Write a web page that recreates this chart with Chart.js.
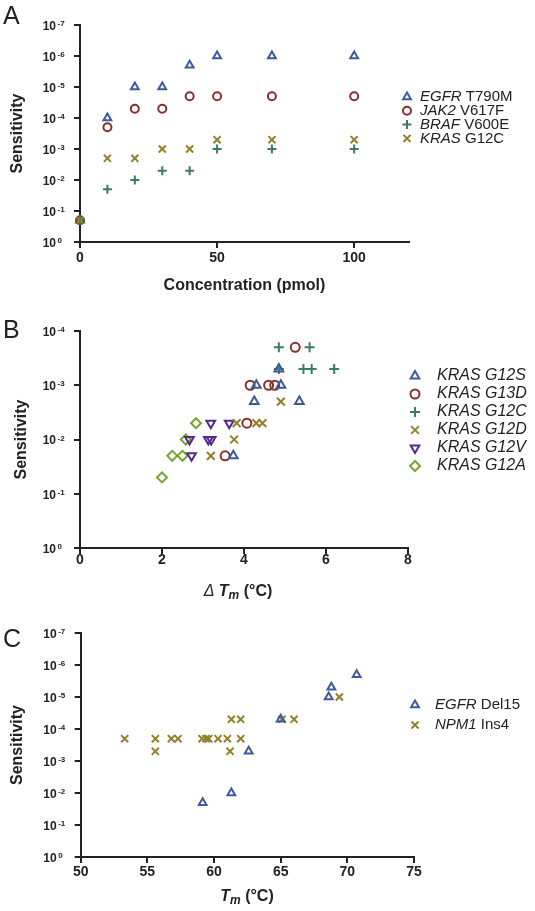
<!DOCTYPE html>
<html>
<head>
<meta charset="utf-8">
<script src="https://cdn.jsdelivr.net/npm/chart.js@4/dist/chart.umd.min.js"></script>
<style>
  body { margin: 0; background: #fff; }
  #wrap { position: relative; width: 535px; height: 911px; }
  canvas { position: absolute; left: 0; }
</style>
</head>
<body>
<div id="wrap">
  <canvas id="chartA" width="535" height="305" style="top:0px"></canvas>
  <canvas id="chartB" width="535" height="297" style="top:305px"></canvas>
  <canvas id="chartC" width="535" height="309" style="top:602px"></canvas>
</div>
<script>
// ---- panel A: sensitivity vs concentration
const concA = [0, 10, 20, 30, 40, 50, 70, 100];
const egfrT790M = [0.2, 1e-4, 1e-5, 1e-5, 2e-6, 1e-6, 1e-6, 1e-6];
const jak2V617F = [0.2, 2e-4, 5e-5, 5e-5, 2e-5, 2e-5, 2e-5, 2e-5];
const brafV600E = [0.2, 2e-2, 1e-2, 5e-3, 5e-3, 1e-3, 1e-3, 1e-3];
const krasG12C = [0.2, 2e-3, 2e-3, 1e-3, 1e-3, 5e-4, 5e-4, 5e-4];
const genesA = ["EGFR", "JAK2", "BRAF", "KRAS"];
const mutsA = ["T790M", "V617F", "V600E", "G12C"];
const xTicksA = [0, 50, 100];

// ---- panel B: sensitivity vs delta Tm (KRAS mutants)
const g12sDTm = [3.74, 4.25, 4.3, 4.85, 4.9, 5.35];
const g12sSens = [0.02, 0.002, 0.001, 5e-4, 0.001, 0.002];
const g13dDTm = [3.54, 4.07, 4.15, 4.6, 4.75, 5.25];
const g13dSens = [0.02, 0.005, 0.001, 0.001, 0.001, 2e-4];
const g12cDTm = [4.85, 5.6, 4.85, 5.45, 5.65, 6.2];
const g12cSens = [2e-4, 2e-4, 5e-4, 5e-4, 5e-4, 5e-4];
const g12dDTm = [3.19, 3.76, 3.82, 4.3, 4.45, 4.9];
const g12dSens = [0.02, 0.01, 0.005, 0.005, 0.005, 0.002];
const g12vDTm = [2.72, 2.67, 3.13, 3.2, 3.19, 3.64];
const g12vSens = [0.02, 0.01, 0.01, 0.01, 0.005, 0.005];
const g12aDTm = [2.0, 2.25, 2.5, 2.58, 2.83];
const g12aSens = [0.05, 0.02, 0.02, 0.01, 0.005];
const labelsB = ["KRAS G12S", "KRAS G13D", "KRAS G12C", "KRAS G12D", "KRAS G12V", "KRAS G12A"];
const xTicksB = [0, 2, 4, 6, 8];

// ---- panel C: sensitivity vs Tm
const egfrDel15Tm = [59.15, 61.3, 62.6, 65.0, 68.6, 68.8, 70.7];
const egfrDel15Sens = [0.02, 0.01, 5e-4, 5e-5, 1e-5, 5e-6, 2e-6];
const npm1Tm = [53.3, 55.6, 55.6, 56.8, 57.3, 59.1, 59.4, 59.6, 60.3, 61.0, 61.2, 61.3, 62.0, 62.0, 65.1, 66.0, 69.4];
const npm1Sens = [2e-4, 2e-4, 5e-4, 2e-4, 2e-4, 2e-4, 2e-4, 2e-4, 2e-4, 2e-4, 5e-4, 5e-5, 2e-4, 5e-5, 5e-5, 5e-5, 1e-5];
const genesC = ["EGFR", "NPM1"];
const mutsC = ["Del15", "Ins4"];
const xTicksC = [50, 55, 60, 65, 70, 75];

const FONT = '"Liberation Sans", Arial, Helvetica, sans-serif';
Chart.defaults.font.family = FONT;

const BLUE = "#3d5b9b", RED = "#8a2f31", GREEN = "#3c7d5e", OLIVE = "#93802c",
      PURPLE = "#55298b", LIME = "#76a630";

function pts(xs, ys) {
  return xs.map((x, i) => ({ x: x, y: ys[i] }));
}

function series(xs, ys, color, style, r, rot, order) {
  return {
    data: pts(xs, ys),
    order: order || 0,
    pointStyle: style,
    pointRadius: r,
    pointHoverRadius: r,
    pointRotation: rot || 0,
    pointBorderWidth: 2,
    pointBorderColor: color,
    pointBackgroundColor: "rgba(0,0,0,0)",
    borderColor: color,
    showLine: false,
    clip: false
  };
}

// draws panel letter, the 10^n tick labels, legend and rich x title
const decor = {
  id: "decor",
  afterDraw(chart, args, o) {
    const ctx = chart.ctx;
    const ys = chart.scales.y;
    ctx.save();
    ctx.fillStyle = "#222";

    ctx.font = "25px " + FONT;
    ctx.textAlign = "left";
    ctx.textBaseline = "alphabetic";
    ctx.fillText(o.letter, 3, o.letterY);

    // y tick labels as 10 with raised exponent
    ys.ticks.forEach(t => {
      const y = ys.getPixelForValue(t.value);
      const e = Math.round(Math.log10(t.value));
      ctx.font = "bold 12px " + FONT;
      ctx.textAlign = "right";
      ctx.textBaseline = "middle";
      ctx.fillText("10", ys.right - 24, y + 1.5);
      ctx.font = "bold 8px " + FONT;
      ctx.textAlign = "left";
      ctx.textBaseline = "alphabetic";
      ctx.fillText(e === 0 ? "0" : "-" + (-e), ys.right - 22.5, y + 1);
    });

    // legend
    const lg = o.legend;
    chart.data.datasets.forEach((ds, i) => {
      const y = lg.y0 + i * lg.dy;
      ctx.save();
      ctx.strokeStyle = ds.pointBorderColor;
      ctx.fillStyle = "rgba(0,0,0,0)";
      ctx.lineWidth = 2;
      Chart.helpers.drawPoint(ctx, {
        pointStyle: ds.pointStyle, radius: ds.pointRadius,
        rotation: ds.pointRotation, borderWidth: 2
      }, lg.mx, y);
      ctx.restore();
      ctx.textAlign = "left";
      ctx.textBaseline = "middle";
      let x = lg.tx;
      lg.parts[i].forEach(p => {
        ctx.font = p.f + " " + lg.size + "px " + FONT;
        ctx.fillText(p.t, x, y);
        x += ctx.measureText(p.t).width;
      });
    });

    // composed x title (italic / subscript pieces)
    if (o.xTitle) {
      const xt = o.xTitle;
      let w = 0;
      xt.parts.forEach(p => { ctx.font = p.f + " " + FONT; w += ctx.measureText(p.t).width; });
      let x = xt.cx - w / 2;
      ctx.textAlign = "left";
      ctx.textBaseline = "middle";
      xt.parts.forEach(p => {
        ctx.font = p.f + " " + FONT;
        ctx.fillText(p.t, x, xt.y + (p.dy || 0));
        x += ctx.measureText(p.t).width;
      });
    }
    ctx.restore();
  }
};

function decades(lo) {
  const out = [];
  for (let e = lo; e <= 0; e++) out.push({ value: Math.pow(10, e) });
  return out;
}

function makeChart(id, datasets, o) {
  const axisLine = { display: true, drawOnChartArea: false, drawTicks: true, tickLength: 6, color: "#222", lineWidth: 2 };
  return new Chart(document.getElementById(id), {
    type: "scatter",
    data: { datasets: datasets },
    options: {
      responsive: false,
      animation: false,
      events: [],
      layout: { padding: { left: 0, right: o.padRight, top: o.padTop, bottom: 0 } },
      plugins: {
        legend: { display: false },
        tooltip: { enabled: false },
        decor: o.decor
      },
      scales: {
        x: {
          type: "linear",
          min: o.xMin,
          max: o.xMax,
          afterFit: s => { s.height = o.xH; },
          afterBuildTicks: s => { s.ticks = o.xTicks.map(v => ({ value: v })); },
          grid: axisLine,
          border: { display: true, color: "#222", width: 2 },
          ticks: {
            color: "#222", padding: o.xTickPad, maxRotation: 0, autoSkip: false,
            font: { size: 14, weight: "bold" }
          },
          title: o.xTitleText ? {
            display: true, text: o.xTitleText, color: "#222",
            font: { size: 16, weight: "bold" }, padding: { top: 0, bottom: o.xTitlePad }
          } : { display: false }
        },
        y: {
          type: "logarithmic",
          reverse: true,
          min: Math.pow(10, o.yLo),
          max: 1,
          afterFit: s => { s.width = o.yW; },
          afterBuildTicks: s => { s.ticks = decades(o.yLo); },
          grid: axisLine,
          border: { display: true, color: "#222", width: 2 },
          ticks: { display: false },
          title: {
            display: true, text: "Sensitivity", color: "#222",
            font: { size: 16, weight: "bold" }, padding: { top: o.yTitlePad, bottom: 0 }
          }
        }
      }
    },
    plugins: [decor]
  });
}

// ---- A
makeChart("chartA", [
  series(concA, egfrT790M, BLUE, "triangle", 4.5, 0, 3),
  series(concA, jak2V617F, RED, "circle", 4, 0, 2),
  series(concA, brafV600E, GREEN, "cross", 4.5, 0, 1),
  series(concA, krasG12C, OLIVE, "crossRot", 5, 0, 0)
], {
  padRight: 535 - 409, padTop: 25, xH: 305 - 242, yW: 80, yLo: -7,
  xMin: 0, xMax: 120, xTicks: xTicksA, xTickPad: 2,
  xTitleText: "Concentration (pmol)", xTitlePad: 10, yTitlePad: 8,
  decor: {
    letter: "A", letterY: 24,
    legend: {
      y0: 97, dy: 13.8, mx: 407, tx: 420, size: 15,
      parts: genesA.map((g, i) => [{ t: g, f: "italic" }, { t: " " + mutsA[i], f: "normal" }])
    }
  }
});

// ---- B
makeChart("chartB", [
  series(g12sDTm, g12sSens, BLUE, "triangle", 5),
  series(g13dDTm, g13dSens, RED, "circle", 4.5),
  series(g12cDTm, g12cSens, GREEN, "cross", 5),
  series(g12dDTm, g12dSens, OLIVE, "crossRot", 5.5),
  series(g12vDTm, g12vSens, PURPLE, "triangle", 5, 180),
  series(g12aDTm, g12aSens, LIME, "rectRot", 5)
], {
  padRight: 535 - 408, padTop: 26, xH: 297 - 243, yW: 80, yLo: -4,
  xMin: 0, xMax: 8, xTicks: xTicksB, xTickPad: -2,
  xTitleText: null, yTitlePad: 12,
  decor: {
    letter: "B", letterY: 33,
    legend: {
      y0: 71, dy: 18, mx: 415, tx: 437, size: 16,
      parts: labelsB.map(l => [{ t: l, f: "italic" }])
    },
    xTitle: {
      cx: 238, y: 287,
      parts: [
        { t: "\u0394 ", f: "italic 16px" },
        { t: "T", f: "italic bold 16px" },
        { t: "m", f: "italic bold 12px", dy: 4 },
        { t: " (\u00b0C)", f: "bold 16px" }
      ]
    }
  }
});

// ---- C
makeChart("chartC", [
  series(egfrDel15Tm, egfrDel15Sens, BLUE, "triangle", 4.5),
  series(npm1Tm, npm1Sens, OLIVE, "crossRot", 5)
], {
  padRight: 535 - 414, padTop: 31, xH: 309 - 255, yW: 80.7, yLo: -7,
  xMin: 50, xMax: 75, xTicks: xTicksC, xTickPad: 1,
  xTitleText: null, yTitlePad: 8,
  decor: {
    letter: "C", letterY: 45,
    legend: {
      y0: 103, dy: 20, mx: 415, tx: 435, size: 15,
      parts: genesC.map((g, i) => [{ t: g, f: "italic" }, { t: " " + mutsC[i], f: "normal" }])
    },
    xTitle: {
      cx: 247, y: 295,
      parts: [
        { t: "T", f: "italic bold 16px" },
        { t: "m", f: "italic bold 12px", dy: 4 },
        { t: " (\u00b0C)", f: "bold 16px" }
      ]
    }
  }
});
</script>
</body>
</html>
